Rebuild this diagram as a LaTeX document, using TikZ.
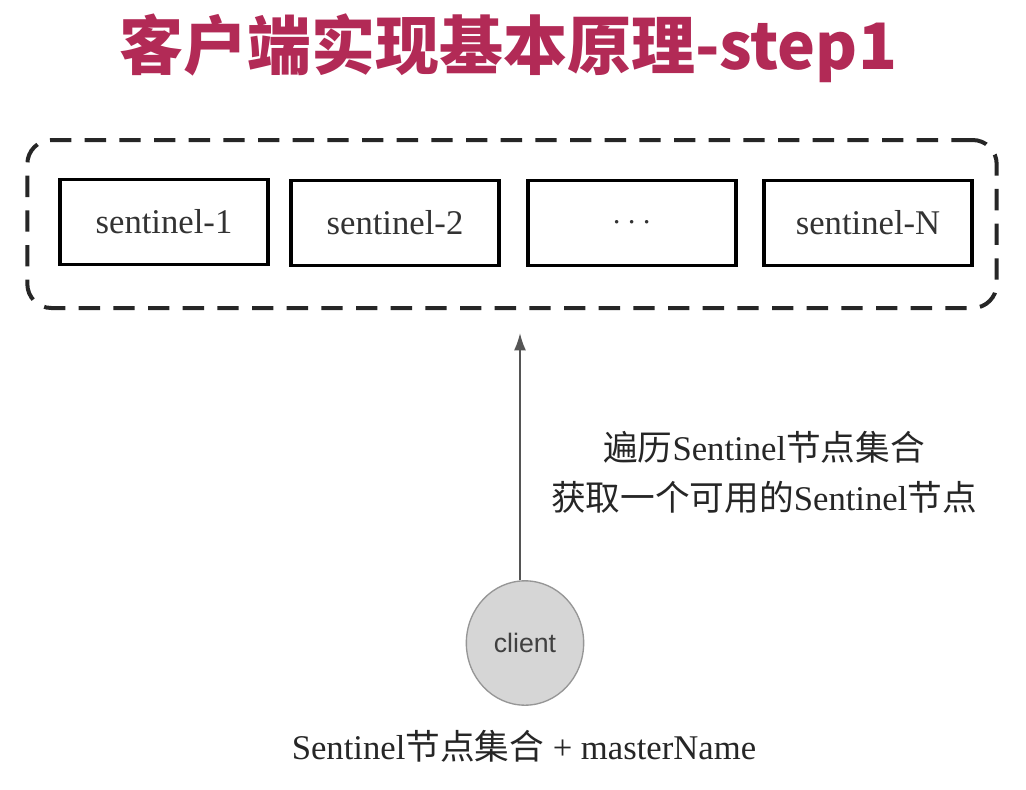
\documentclass[tikz,border=0pt]{standalone}
\usepackage{fontspec}
\setmainfont{Liberation Serif}
\setsansfont{Liberation Sans}
\newfontfamily\cjk{Noto Sans CJK SC}
\usetikzlibrary{arrows.meta}
\definecolor{titlered}{RGB}{178,42,86}
\definecolor{clientfill}{RGB}{214,214,214}
\definecolor{clientline}{RGB}{150,150,150}
\definecolor{arrowgray}{RGB}{85,85,85}
\tikzset{
  sbox/.style={draw=black, line width=2.4pt, minimum width=156pt, minimum height=64pt, inner sep=0pt, font=\fontsize{26}{30}\selectfont, text=black!80},
  grpbox/.style={draw=black!85, line width=3pt, dash pattern=on 16pt off 10pt, rounded corners=18pt, inner sep=0pt},
  lbl/.style={font=\fontsize{26}{37.5}\selectfont, text=black!85, align=center, inner sep=0pt},
}
\begin{document}
\begin{tikzpicture}[x=0.75pt,y=-0.75pt]
\useasboundingbox[fill=white] (0,0) rectangle (1026,790);
\node[font=\cjk\bfseries\fontsize{48}{54}\selectfont, text=titlered, inner sep=0pt] (title) at (508,48) {客户端实现基本原理-step1};
\node[grpbox, minimum width=727pt, minimum height=126pt] (grp) at (512,224) {};
\node[sbox] (s1) at (164,222) {sentinel-1};
\node[sbox] (s2) at (395,223) {sentinel-2};
\node[sbox] (s3) at (632,223) {$\cdots$};
\node[sbox] (sN) at (868,223) {sentinel-N};
\node[circle, draw=clientline, fill=clientfill, line width=1pt, minimum width=88pt, inner sep=0pt, yscale=1.06] (client) at (525,643) {};
\node[font=\sffamily\fontsize{20}{24}\selectfont, text=black!75] (clientlbl) at (525,643) {client};
\coordinate (tip) at (520,333);
\draw[arrowgray, line width=1.5pt, -{Latex[length=13pt,width=9pt]}] (client.north -| tip) -- (tip);
\node[lbl] (desc) at (764,472) {{\cjk 遍历}Sentinel{\cjk 节点集合}\\{\cjk 获取一个可用的}Sentinel{\cjk 节点}};
\node[lbl] (input) at (524,746) {Sentinel{\cjk 节点集合} + masterName};
\end{tikzpicture}
\end{document}
